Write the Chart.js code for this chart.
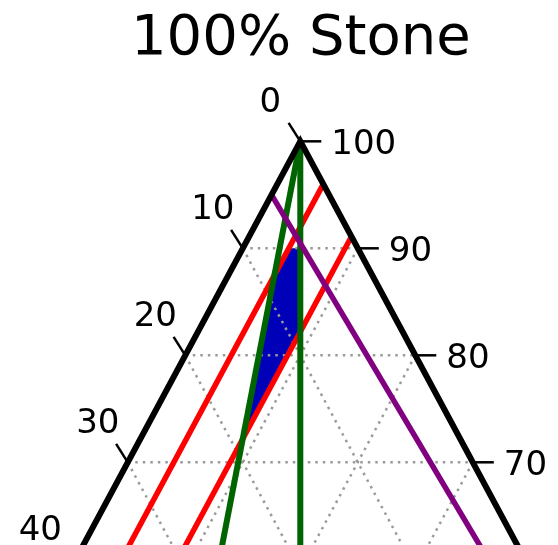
<!DOCTYPE html>
<html><head><meta charset="utf-8">
<script src="https://cdn.jsdelivr.net/npm/chart.js@4/dist/chart.umd.min.js"></script>
<style>html,body{margin:0;padding:0;background:#fff;} canvas{display:block;}</style>
</head><body>
<canvas id="c" width="558" height="545"></canvas>
<script>
// ---- data (ternary points as [Stone, A(left corner), B(right corner)]) ----
const chartTitle = '100% Stone';
const leftTicks = [0, 10, 20, 30, 40];      // left axis values
const rightTicks = [100, 90, 80, 70];       // right axis (Stone) values
const gridValues = [10, 20, 30, 40, 50, 60, 70, 80, 90];
const greenLine1 = [[100, 0, 0], [0, 50, 50]];
const greenLine2 = [[100, 0, 0], [0, 68, 32]];
const redLine1 = [[96, 0, 4], [0, 96, 4]];
const redLine2 = [[91.1, 0, 8.9], [0, 91.1, 8.9]];
const purpleLine = [[95, 5, 0], [0, 0, 100]];
const bluePolygon = [[90, 6, 4], [90, 5, 5], [82.2, 8.9, 8.9], [72.19, 18.91, 8.9], [87.5, 8.5, 4], [90, 6, 4]];
const triangle = [[0, 100, 0], [100, 0, 0], [0, 0, 100], [0, 100, 0]];

const toPt = (p) => ({ x: p[2] + p[0] / 2, y: p[0] });
const pts = (arr) => arr.map(toPt);

const datasets = [];
const lineDs = (arr, color, width, order, extra) => Object.assign({
  data: pts(arr), showLine: true, borderColor: color, borderWidth: width,
  pointRadius: 0, fill: false, order: order, borderCapStyle: 'butt', borderJoinStyle: 'miter'
}, extra || {});

datasets.push(lineDs(triangle, '#000000', 6, 0));
datasets.push(lineDs(purpleLine, '#800080', 5.5, 1));
datasets.push(lineDs(greenLine1, '#006400', 6, 2));
datasets.push(lineDs(greenLine2, '#006400', 6, 2));
datasets.push(lineDs(redLine1, '#ff0000', 5.5, 3));
datasets.push(lineDs(redLine2, '#ff0000', 5.5, 3));
gridValues.forEach(k => {
  const g = { borderDash: [2.5, 5] };
  datasets.push(lineDs([[k, 100 - k, 0], [k, 0, 100 - k]], '#9a9a9a', 2.5, 5, g));
  datasets.push(lineDs([[100 - k, k, 0], [0, k, 100 - k]], '#9a9a9a', 2.5, 5, g));
  datasets.push(lineDs([[100 - k, 0, k], [0, 100 - k, k]], '#9a9a9a', 2.5, 5, g));
});
datasets.push(lineDs(bluePolygon, 'rgba(0,0,0,0)', 0, 9, { fill: 'shape', backgroundColor: '#0000b8' }));

const ternaryAxes = {
  id: 'ternaryAxes',
  afterDraw(chart) {
    const ctx = chart.ctx, xs = chart.scales.x, ys = chart.scales.y;
    const px = (p) => { const q = toPt(p); return [xs.getPixelForValue(q.x), ys.getPixelForValue(q.y)]; };
    const fs = 34;
    ctx.save();
    ctx.strokeStyle = '#000'; ctx.fillStyle = '#000'; ctx.lineWidth = 2.5;
    ctx.font = fs + 'px "DejaVu Sans"';
    ctx.textBaseline = 'alphabetic';
    leftTicks.forEach(v => {
      const [x, y] = px([100 - v, v, 0]);
      ctx.beginPath(); ctx.moveTo(x, y); ctx.lineTo(x - 11.7, y - 18.4); ctx.stroke();
      ctx.textAlign = 'center';
      ctx.fillText(String(v), x - 30, y - 42 + 0.364 * fs);
    });
    rightTicks.forEach(v => {
      const [x, y] = px([v, 0, 100 - v]);
      ctx.beginPath(); ctx.moveTo(x, y); ctx.lineTo(x + 21, y); ctx.stroke();
      ctx.textAlign = 'left';
      ctx.fillText(String(v), x + 31, y + 0.364 * fs);
    });
    const [ax] = px([100, 0, 0]);
    ctx.font = '56px "DejaVu Sans"';
    ctx.textAlign = 'center';
    ctx.fillText(chartTitle, ax + 0.5, 53.5);
    ctx.restore();
  }
};

new Chart(document.getElementById('c'), {
  type: 'scatter',
  data: { datasets: datasets },
  options: {
    responsive: false, animation: false,
    layout: { padding: 0 },
    plugins: { legend: { display: false }, tooltip: { enabled: false }, title: { display: false } },
    scales: {
      x: { type: 'linear', min: 23.887, max: 72.409, display: false },
      y: { type: 'linear', min: 62.27, max: 113.21, display: false }
    }
  },
  plugins: [ternaryAxes]
});
</script>
</body></html>
